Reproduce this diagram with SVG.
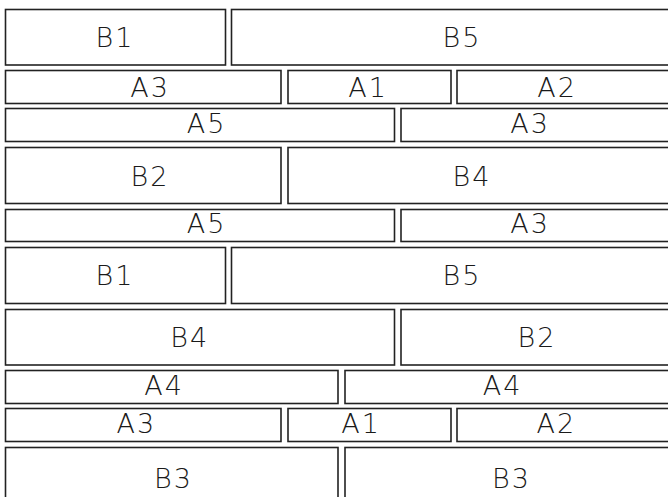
<svg xmlns="http://www.w3.org/2000/svg" width="668" height="497" viewBox="0 0 668 497">
<style>
rect{fill:#fff;stroke:#222;stroke-width:1.6}
text{font-family:"DejaVu Sans","Liberation Sans",sans-serif;font-weight:200;font-size:27px;letter-spacing:2px;fill:#1a1a1a;text-anchor:middle}
</style>
<rect x="0" y="0" width="668" height="497" style="stroke:none"/>
<g id="r1-b1"><rect x="5.5" y="9.5" width="220" height="55.5"/><text x="115" y="47">B1</text></g>
<g id="r1-b5"><rect x="231.5" y="9.5" width="480" height="55.5"/><text x="462" y="47">B5</text></g>
<g id="r2-a3"><rect x="5.5" y="70.5" width="275.5" height="33"/><text x="150" y="96.7">A3</text></g>
<g id="r2-a1"><rect x="288" y="70.5" width="163" height="33"/><text x="368" y="96.7">A1</text></g>
<g id="r2-a2"><rect x="457" y="70.5" width="260" height="33"/><text x="557" y="96.7">A2</text></g>
<g id="r3-a5"><rect x="5.5" y="108.5" width="389" height="33"/><text x="206.5" y="132.5">A5</text></g>
<g id="r3-a3"><rect x="401" y="108.5" width="320" height="33"/><text x="530" y="132.5">A3</text></g>
<g id="r4-b2"><rect x="5.5" y="147.5" width="275.5" height="56"/><text x="150" y="185.5">B2</text></g>
<g id="r4-b4"><rect x="288" y="147.5" width="430" height="56"/><text x="472" y="185.5">B4</text></g>
<g id="r5-a5"><rect x="5.5" y="209.5" width="389" height="32"/><text x="206.5" y="233">A5</text></g>
<g id="r5-a3"><rect x="401" y="209.5" width="320" height="32"/><text x="530" y="233">A3</text></g>
<g id="r6-b1"><rect x="5.5" y="247.5" width="220" height="56"/><text x="115" y="285">B1</text></g>
<g id="r6-b5"><rect x="231.5" y="247.5" width="480" height="56"/><text x="462" y="285">B5</text></g>
<g id="r7-b4"><rect x="5.5" y="309.5" width="389" height="55.5"/><text x="189.7" y="346.5">B4</text></g>
<g id="r7-b2"><rect x="401" y="309.5" width="320" height="55.5"/><text x="537" y="346.5">B2</text></g>
<g id="r8-a4l"><rect x="5.5" y="370.5" width="332.5" height="33"/><text x="164" y="395">A4</text></g>
<g id="r8-a4r"><rect x="345" y="370.5" width="380" height="33"/><text x="502.7" y="395">A4</text></g>
<g id="r9-a3"><rect x="5.5" y="408.5" width="275.5" height="33"/><text x="136.3" y="432.5">A3</text></g>
<g id="r9-a1"><rect x="288" y="408.5" width="163" height="33"/><text x="361" y="432.5">A1</text></g>
<g id="r9-a2"><rect x="457" y="408.5" width="260" height="33"/><text x="556.3" y="432.5">A2</text></g>
<g id="r10-b3l"><rect x="5.5" y="447.5" width="332.5" height="80"/><text x="173.5" y="488.3">B3</text></g>
<g id="r10-b3r"><rect x="345" y="447.5" width="380" height="80"/><text x="511.5" y="488.3">B3</text></g>
</svg>
